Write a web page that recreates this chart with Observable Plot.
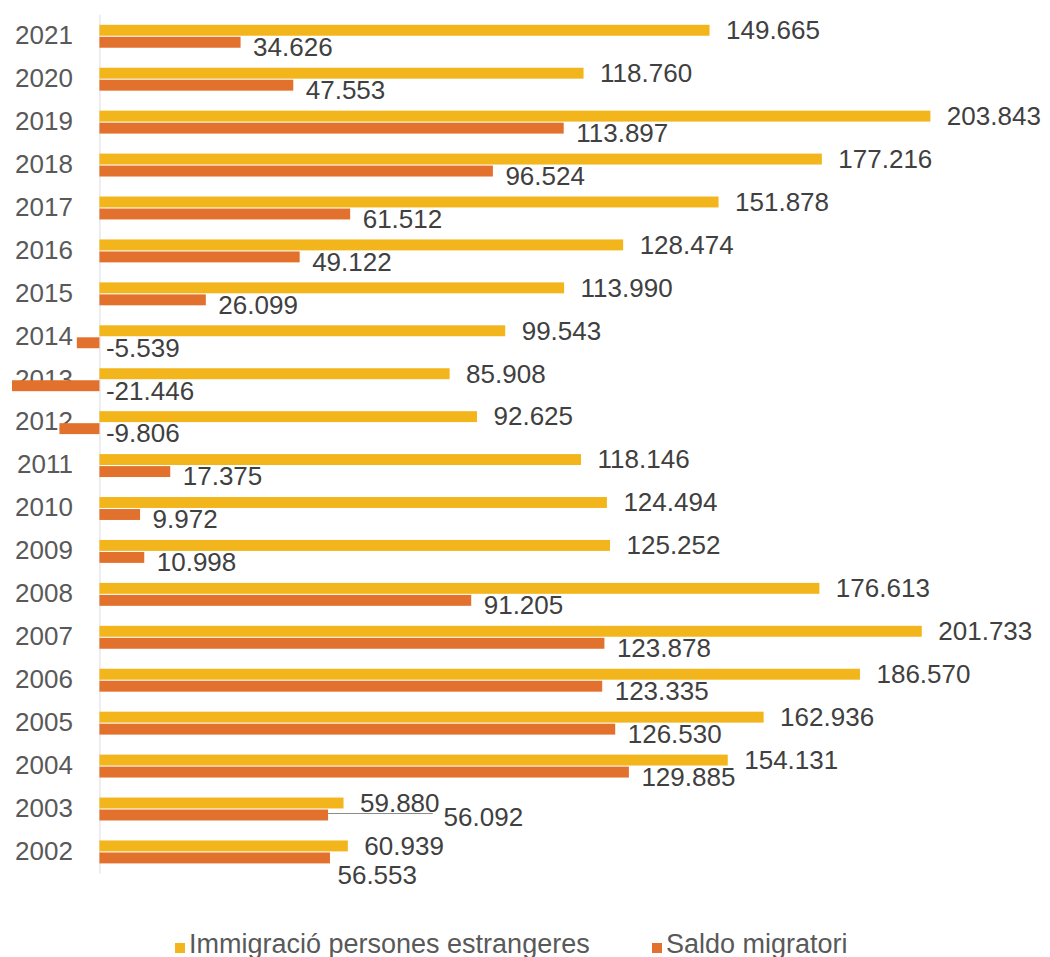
<!DOCTYPE html>
<html><head><meta charset="utf-8">
<script src="https://cdn.jsdelivr.net/npm/d3@7"></script>
<script src="https://cdn.jsdelivr.net/npm/@observablehq/plot@0.6"></script>
<style>
body{margin:0;background:#fff;font-family:"Liberation Sans",Arial,sans-serif;}
#wrap{position:relative;width:1050px;height:957px;}
.leg{position:absolute;top:929px;font-size:27px;line-height:30px;color:#595959;white-space:nowrap;}
.sw{display:inline-block;width:10px;height:10px;margin-right:4px;}
</style></head><body><div id="wrap"></div>
<script>
const years = [2021,2020,2019,2018,2017,2016,2015,2014,2013,2012,2011,2010,2009,2008,2007,2006,2005,2004,2003,2002];
const immigracio = [149665,118760,203843,177216,151878,128474,113990,99543,85908,92625,118146,124494,125252,176613,201733,186570,162936,154131,59880,60939];
const saldo = [34626,47553,113897,96524,61512,49122,26099,-5539,-21446,-9806,17375,9972,10998,91205,123878,123335,126530,129885,56092,56553];
const seriesNames = ["Immigració persones estrangeres","Saldo migratori"];
const colors = ["#F2B51C","#E2712D"];

const rows = years.map((y,i)=>({year:String(y), imm:immigracio[i], saldo:saldo[i]}));
const fmt = d3.formatLocale({thousands:".", decimal:",", grouping:[3], currency:["",""], minus:"-"}).format(",d");
const labelFont = 26;
const leaderLen = 25700;

const normal = rows.filter(d=>d.year!=="2003" && d.year!=="2002");
const chart = Plot.plot({
  width:1050, height:890,
  marginLeft:12, marginRight:13, marginTop:14.8, marginBottom:16.6,
  style:{fontFamily:"Liberation Sans, Arial, sans-serif", background:"white"},
  x:{domain:[d3.min(saldo), 230000], axis:null},
  y:{type:"band", domain:rows.map(d=>d.year), padding:0, round:false, axis:null},
  marks:[
    Plot.ruleX([0], {stroke:"#dcdce4", strokeWidth:1}),
    Plot.text(rows, {x:()=>0, y:"year", text:"year", textAnchor:"end", dx:-27, dy:-1, fontSize:labelFont, fill:"#595959"}),
    Plot.barX(rows, {x:"imm", y:"year", fill:colors[0], insetTop:10, insetBottom:22}),
    Plot.barX(rows, {x:"saldo", y:"year", fill:colors[1], insetTop:22, insetBottom:10}),
    Plot.ruleY(rows.filter(d=>d.year==="2003"), {y:"year", x1:"saldo", x2:d=>d.saldo+leaderLen, dy:4, stroke:"#8c8c8c", strokeWidth:1}),
    Plot.text(rows, {x:"imm", y:"year", text:d=>fmt(d.imm), textAnchor:"start", dx:16, dy:-6, fontSize:labelFont, fill:"#404040"}),
    Plot.text(normal.filter(d=>d.saldo>=0), {x:"saldo", y:"year", text:d=>fmt(d.saldo), textAnchor:"start", dx:12, dy:11, fontSize:labelFont, fill:"#404040"}),
    Plot.text(normal.filter(d=>d.saldo<0), {x:()=>0, y:"year", text:d=>fmt(d.saldo), textAnchor:"start", dx:6, dy:11, fontSize:labelFont, fill:"#404040"}),
    Plot.text(rows.filter(d=>d.year==="2003"), {x:"saldo", y:"year", text:d=>fmt(d.saldo), textAnchor:"start", dx:115, dy:8, fontSize:labelFont, fill:"#404040"}),
    Plot.text(rows.filter(d=>d.year==="2002"), {x:"saldo", y:"year", text:d=>fmt(d.saldo), textAnchor:"start", dx:7, dy:23, fontSize:labelFont, fill:"#404040"})
  ]
});
const wrap = document.getElementById("wrap");
wrap.appendChild(chart);
const legLeft = [175, 652];
seriesNames.forEach((n,i)=>{
  const el = document.createElement("div");
  el.className = "leg";
  el.style.left = legLeft[i] + "px";
  el.innerHTML = `<span class="sw" style="background:${colors[i]}"></span>${n}`;
  wrap.appendChild(el);
});
</script>
</body></html>
